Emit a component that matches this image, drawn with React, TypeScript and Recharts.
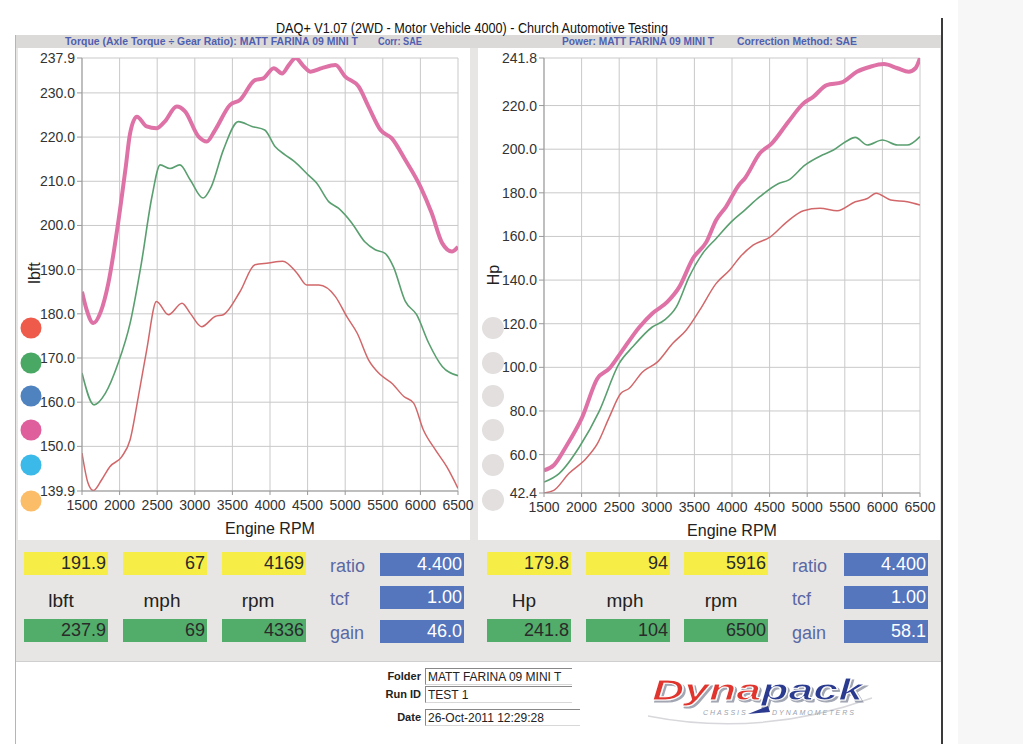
import React from 'react';
import { LineChart, Line, XAxis, YAxis, CartesianGrid } from 'recharts';

// ---------- axis ticks ----------
const rpmTicks = [1500, 2000, 2500, 3000, 3500, 4000, 4500, 5000, 5500, 6000, 6500];
const torqueTicks = [139.9, 150, 160, 170, 180, 190, 200, 210, 220, 230, 237.9];
const powerTicks = [42.4, 60, 80, 100, 120, 140, 160, 180, 200, 220, 241.8];

// ---------- torque (lbft) ----------
const torquePinkRpm = [1500, 1560, 1650, 1750, 1850, 1980, 2080, 2140, 2230, 2360, 2490, 2600, 2760, 2870, 3050, 3160, 3270, 3470, 3600, 3800, 3910, 4050, 4160, 4250, 4340, 4450, 4540, 4690, 4870, 5000, 5180, 5310, 5470, 5620, 5800, 6000, 6150, 6290, 6420, 6500];
const torquePink = [185.0, 181.0, 177.9, 180.5, 186.9, 200.5, 213.0, 220.9, 224.6, 222.4, 222.0, 223.5, 226.9, 225.8, 220.1, 219.0, 221.6, 227.3, 228.4, 232.9, 233.3, 235.6, 234.4, 236.3, 237.9, 236.0, 234.8, 235.6, 236.3, 233.7, 231.4, 226.9, 221.6, 219.7, 214.8, 208.8, 202.8, 196.0, 194.1, 195.2];

const torqueGreenRpm = [1500, 1660, 1810, 1980, 2140, 2290, 2430, 2540, 2670, 2800, 2940, 3110, 3220, 3380, 3580, 3760, 3930, 4070, 4200, 4330, 4510, 4620, 4780, 4910, 5090, 5260, 5400, 5530, 5640, 5800, 5950, 6110, 6290, 6500];
const torqueGreen = [166.6, 159.4, 162.0, 168.8, 177.9, 191.5, 206.5, 213.7, 212.9, 213.7, 210.3, 206.2, 208.8, 217.1, 223.5, 222.4, 221.6, 217.8, 216.0, 214.4, 211.4, 209.6, 205.4, 203.9, 200.5, 196.3, 194.5, 193.7, 190.7, 182.8, 179.8, 173.4, 168.1, 166.0];

const torqueRedRpm = [1500, 1580, 1650, 1760, 1870, 2030, 2140, 2250, 2360, 2490, 2650, 2830, 2940, 3090, 3270, 3380, 3600, 3800, 3980, 4170, 4360, 4490, 4650, 4870, 5020, 5160, 5310, 5470, 5620, 5780, 5910, 6040, 6200, 6350, 6500];
const torqueRed = [148.5, 141.7, 140.0, 142.4, 145.4, 147.7, 151.5, 161.3, 171.8, 182.8, 179.8, 182.4, 180.1, 177.1, 179.4, 179.8, 185.0, 191.1, 191.5, 191.9, 189.2, 186.5, 186.5, 183.9, 179.4, 175.6, 169.6, 166.2, 164.3, 161.3, 159.8, 153.7, 149.2, 145.4, 140.5];

// ---------- power (Hp) ----------
const powerPinkRpm = [1500, 1630, 1790, 2010, 2210, 2370, 2500, 2770, 2940, 3140, 3300, 3480, 3660, 3790, 3920, 4090, 4170, 4370, 4530, 4750, 4950, 5080, 5260, 5460, 5660, 5840, 6020, 6200, 6350, 6440, 6500];
const powerPink = [52.8, 55.1, 63.5, 77.3, 94.9, 99.5, 105.6, 118.5, 124.7, 130.0, 136.9, 149.9, 157.5, 167.5, 173.6, 183.5, 186.6, 198.1, 202.7, 212.6, 221.0, 224.0, 229.4, 230.6, 235.5, 237.8, 239.0, 237.1, 235.5, 237.1, 241.8];

const powerGreenRpm = [1500, 1700, 1970, 2230, 2500, 2680, 2940, 3100, 3260, 3430, 3610, 3790, 3990, 4170, 4370, 4620, 4750, 4970, 5200, 5350, 5510, 5640, 5800, 6000, 6200, 6330, 6500];
const powerGreen = [47.4, 51.3, 63.5, 79.6, 101.8, 109.4, 118.5, 121.6, 127.7, 141.5, 152.2, 159.1, 166.7, 172.1, 178.2, 184.3, 185.8, 192.7, 197.3, 199.6, 203.4, 205.4, 201.9, 204.2, 201.9, 201.9, 205.8];

const powerRedRpm = [1500, 1630, 1830, 2060, 2210, 2370, 2520, 2630, 2810, 3010, 3210, 3390, 3570, 3790, 3970, 4110, 4280, 4510, 4730, 4950, 5170, 5400, 5640, 5800, 5916, 6110, 6330, 6500];
const powerRed = [42.4, 43.6, 51.3, 58.2, 65.0, 77.3, 88.0, 90.3, 97.9, 102.5, 110.9, 117.0, 126.2, 138.5, 144.6, 150.7, 156.0, 159.8, 166.7, 171.8, 172.9, 171.8, 175.9, 177.4, 179.8, 176.7, 175.9, 174.4];

// ---------- readout panels ----------
const torqueCursor = ['191.9', '67', '4169'];
const torquePeak = ['237.9', '69', '4336'];
const torqueUnits = ['lbft', 'mph', 'rpm'];
const torqueSide = ['4.400', '1.00', '46.0'];
const powerCursor = ['179.8', '94', '5916'];
const powerPeak = ['241.8', '104', '6500'];
const powerUnits = ['Hp', 'mph', 'rpm'];
const powerSide = ['4.400', '1.00', '58.1'];
const sideLabels = ['ratio', 'tcf', 'gain'];

const legendColors = ['#ee5b4b', '#4aa865', '#4f83c0', '#df5f9c', '#3bb9e9', '#fbbd68'];

const zip = (rpm: number[], val: number[]) => rpm.map((r, i) => ({ rpm: r, v: val[i] }));

const PINK = '#de72a6';
const GREEN = '#5a9f70';
const RED = '#d2676a';
const FONT = "'Liberation Sans', Arial, sans-serif";

const tickStyle = { fontSize: 14, fill: '#333', fontFamily: FONT };

function DynoChart(props: {
  left: number; yWidth: number; ticks: number[]; domain: [number, number];
  series: { rpm: number[]; val: number[]; color: string; w: number }[]; height: number;
}) {
  return (
    <div style={{ position: 'absolute', left: props.left, top: 48 }}>
      <LineChart width={460} height={props.height} margin={{ top: 10, right: 460 - props.yWidth - 376, bottom: 0, left: 0 }}>
        <CartesianGrid stroke="#c9c9c9" strokeWidth={1} horizontalValues={props.ticks} verticalValues={rpmTicks} />
        <XAxis
          dataKey="rpm" type="number" domain={[1500, 6500]} ticks={rpmTicks} interval={0}
          allowDataOverflow height={50} tick={tickStyle} tickSize={4} tickMargin={5} stroke="#999"
          label={{ value: 'Engine RPM', position: 'insideBottom', offset: 7, style: { fontSize: 16, fill: '#222', fontFamily: FONT } }}
        />
        <YAxis
          type="number" domain={props.domain} ticks={props.ticks} interval={0} allowDataOverflow
          width={props.yWidth} tick={tickStyle} tickSize={5} stroke="#999"
          tickFormatter={(v: number) => v.toFixed(1)}
        />
        {props.series.map((s, i) => (
          <Line key={i} data={zip(s.rpm, s.val)} dataKey="v" type="monotone" stroke={s.color}
            strokeWidth={s.w} dot={false} activeDot={false} isAnimationActive={false} />
        ))}
      </LineChart>
    </div>
  );
}

function Box(p: { x: number; y: number; w: number; bg: string; color: string; text: string }) {
  return (
    <div style={{
      position: 'absolute', left: p.x, top: p.y, width: p.w, height: 23, background: p.bg,
      color: p.color, fontSize: 18, lineHeight: '23px', textAlign: 'right', paddingRight: 2,
      boxSizing: 'border-box', fontFamily: FONT,
    }}>{p.text}</div>
  );
}

function Readout(p: { cursor: string[]; peak: string[]; units: string[]; side: string[]; unitCenters: number[]; sideX: number; blueX: number; boxXs: number[] }) {
  const out: React.ReactNode[] = [];
  p.boxXs.forEach((x, i) => {
    out.push(<Box key={'y' + i} x={x} y={552} w={84} bg="#f6ee47" color="#2a2a2a" text={p.cursor[i]} />);
    out.push(<Box key={'g' + i} x={x} y={619} w={84} bg="#52ad6b" color="#2a2a2a" text={p.peak[i]} />);
    out.push(
      <div key={'u' + i} style={{ position: 'absolute', left: p.unitCenters[i] - 40, width: 80, top: 590, textAlign: 'center', fontSize: 19, color: '#222', fontFamily: FONT }}>{p.units[i]}</div>
    );
  });
  const sideY = [553, 586, 620];
  p.side.forEach((t, i) => {
    out.push(<Box key={'b' + i} x={p.blueX} y={sideY[i]} w={84} bg="#5575bd" color="#ffffff" text={t} />);
    out.push(
      <div key={'s' + i} style={{ position: 'absolute', left: p.sideX, top: sideY[i] + 3, fontSize: 18, color: '#5a68a4', fontFamily: FONT }}>{sideLabels[i]}</div>
    );
  });
  return <>{out}</>;
}

export default function App() {
  return (
    <div style={{ position: 'absolute', left: 0, top: 0, width: 1023, height: 744, background: '#fff', overflow: 'hidden', fontFamily: FONT }}>
      {/* scan edge strip */}
      <div style={{ position: 'absolute', left: 958, top: 0, width: 65, height: 744, background: '#f7f7f7' }} />
      {/* frame */}
      <div style={{ position: 'absolute', left: 15, top: 35, width: 927, height: 709, background: '#e8e6e4', borderLeft: '1px solid #b5b5b5' }} />
      <div style={{ position: 'absolute', left: 941, top: 18, width: 2, height: 726, background: '#3a3a3a' }} />
      {/* subtitle bar */}
      <div style={{ position: 'absolute', left: 16, top: 35, width: 925, height: 13, background: '#dcd9d9' }} />
      {/* chart panels */}
      <div style={{ position: 'absolute', left: 18, top: 48, width: 452, height: 492, background: '#fff' }} />
      <div style={{ position: 'absolute', left: 478, top: 48, width: 462, height: 492, background: '#fff' }} />
      {/* bottom white area */}
      <div style={{ position: 'absolute', left: 16, top: 661, width: 925, height: 83, background: '#fff', borderTop: '1px solid #cfcfcf' }} />

      <DynoChart left={20} yWidth={62} ticks={torqueTicks} domain={[139.9, 237.9]} height={493}
        series={[
          { rpm: torqueRedRpm, val: torqueRed, color: RED, w: 1.5 },
          { rpm: torqueGreenRpm, val: torqueGreen, color: GREEN, w: 1.6 },
          { rpm: torquePinkRpm, val: torquePink, color: PINK, w: 4 },
        ]} />
      <DynoChart left={480} yWidth={64} ticks={powerTicks} domain={[42.4, 241.8]} height={495}
        series={[
          { rpm: powerRedRpm, val: powerRed, color: RED, w: 1.5 },
          { rpm: powerGreenRpm, val: powerGreen, color: GREEN, w: 1.6 },
          { rpm: powerPinkRpm, val: powerPink, color: PINK, w: 4 },
        ]} />

      <Readout cursor={torqueCursor} peak={torquePeak} units={torqueUnits} side={torqueSide}
        boxXs={[24, 123, 222]} unitCenters={[61, 162, 258]} sideX={330} blueX={380} />
      <Readout cursor={powerCursor} peak={powerPeak} units={powerUnits} side={powerSide}
        boxXs={[487, 586, 684]} unitCenters={[524, 625, 721]} sideX={792} blueX={844} />

      {/* folder / run info */}
      {[['Folder', 'MATT FARINA 09 MINI T', 668], ['Run ID', 'TEST 1', 686], ['Date', '26-Oct-2011 12:29:28', 709]].map(([l, v, y], i) => (
        <React.Fragment key={i}>
          <div style={{ position: 'absolute', left: 330, width: 91, top: (y as number) + 2, textAlign: 'right', fontSize: 11, fontWeight: 'bold', color: '#222' }}>{l}</div>
          <div style={{ position: 'absolute', left: 425, top: y as number, width: i === 2 ? 155 : 147, height: 17, borderTop: '1px solid #888', borderLeft: '1px solid #888', borderBottom: '1px solid #d8d8d8', fontSize: 12, lineHeight: '17px', paddingLeft: 2, color: '#222', overflow: 'hidden', whiteSpace: 'nowrap', boxSizing: 'border-box' }}>{v}</div>
        </React.Fragment>
      ))}

      <svg width={1023} height={744} style={{ position: 'absolute', left: 0, top: 0, pointerEvents: 'none' }}>
        <defs>
          <filter id="logoShadow" x="-10%" y="-30%" width="120%" height="160%">
            <feDropShadow dx={2} dy={2} stdDeviation={0.6} floodColor="#8a90a0" floodOpacity={0.8} />
          </filter>
        </defs>
        <text x={276} y={33} fontSize={15} fontFamily={FONT} fill="#111" textLength={392} lengthAdjust="spacingAndGlyphs">DAQ+ V1.07 (2WD - Motor Vehicle 4000) - Church Automotive Testing</text>
        <text x={65} y={45} fontSize={10} fontWeight="bold" fontFamily={FONT} fill="#4f5fb0" textLength={293} lengthAdjust="spacingAndGlyphs">Torque (Axle Torque ÷ Gear Ratio): MATT FARINA 09 MINI T</text>
        <text x={378} y={45} fontSize={10} fontWeight="bold" fontFamily={FONT} fill="#4f5fb0" textLength={44} lengthAdjust="spacingAndGlyphs">Corr: SAE</text>
        <text x={562} y={45} fontSize={10} fontWeight="bold" fontFamily={FONT} fill="#4f5fb0" textLength={152} lengthAdjust="spacingAndGlyphs">Power: MATT FARINA 09 MINI T</text>
        <text x={737} y={45} fontSize={10} fontWeight="bold" fontFamily={FONT} fill="#4f5fb0" textLength={120} lengthAdjust="spacingAndGlyphs">Correction Method: SAE</text>

        <text transform="translate(40,273) rotate(-90)" textAnchor="middle" fontSize={16} fontFamily={FONT} fill="#222">lbft</text>
        <text transform="translate(499,275) rotate(-90)" textAnchor="middle" fontSize={16} fontFamily={FONT} fill="#222">Hp</text>

        {legendColors.map((c, i) => (
          <circle key={'l' + i} cx={31} cy={[328, 363, 396, 430, 465, 501][i]} r={10.5} fill={c} />
        ))}
        {legendColors.map((c, i) => (
          <circle key={'r' + i} cx={493} cy={[328, 363, 396, 430, 465, 500][i]} r={11} fill="#e3dfdf" />
        ))}

        {/* Dynapack logo */}
        <path d="M 648 716 Q 760 738 872 698" fill="none" stroke="#d8d8dc" strokeWidth={1.5} />
        <text x={652} y={700} fontSize={29} fontWeight={900} fontStyle="italic" fontFamily={FONT} stroke="#ffffff" strokeWidth={1} textLength={211} lengthAdjust="spacingAndGlyphs" filter="url(#logoShadow)">
          <tspan fill="#e0352d">Dyna</tspan><tspan fill="#2b3a8f">pack</tspan>
        </text>
        <path d="M 748 714 L 768 706 L 770 712 Z" fill="#2b3a8f" />
        <text x={703} y={715} fontSize={7} fontStyle="italic" fontFamily={FONT} fill="#9aa3ad" letterSpacing={2}>CHASSIS</text>
        <text x={772} y={715} fontSize={7} fontStyle="italic" fontFamily={FONT} fill="#9aa3ad" letterSpacing={2}>DYNAMOMETERS</text>
      </svg>
    </div>
  );
}
